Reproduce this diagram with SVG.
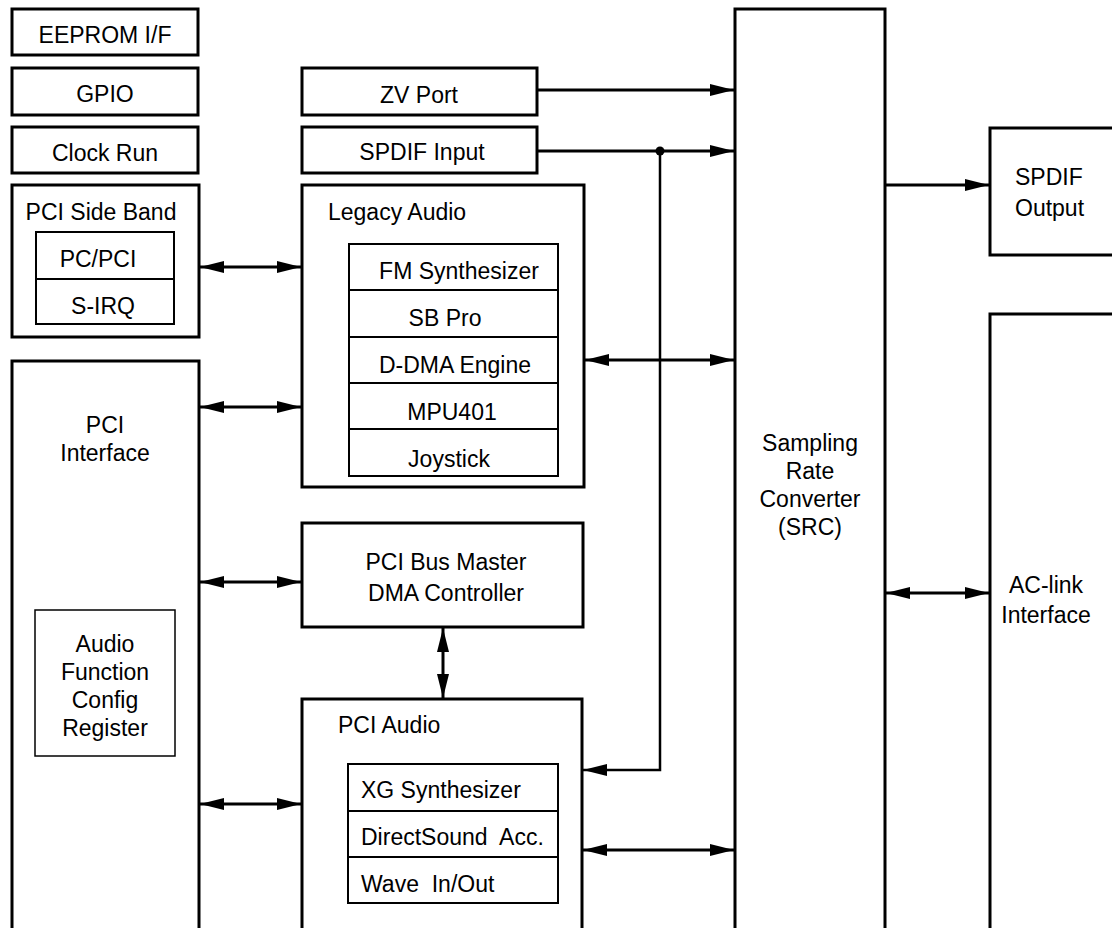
<svg xmlns="http://www.w3.org/2000/svg" width="1112" height="928" viewBox="0 0 1112 928">
<defs>
<marker id="ah" viewBox="0 0 24 12" refX="24" refY="6" markerWidth="24" markerHeight="12" markerUnits="userSpaceOnUse" orient="auto-start-reverse">
<path d="M0,0 L24,6 L0,12 z" fill="#000"/>
</marker>
<style>
.b{fill:#fff;stroke:#000;stroke-width:3}
.i{fill:none;stroke:#000;stroke-width:2}
.r{fill:#fff;stroke:#000;stroke-width:1.5}
.t{font-family:"Liberation Sans",Arial,sans-serif;font-size:23px;fill:#000}
.m{text-anchor:middle}
.c{fill:none;stroke:#000;stroke-width:3}
.one{marker-end:url(#ah)}
.two{marker-start:url(#ah);marker-end:url(#ah)}
</style>
</defs>
<rect width="1112" height="928" fill="#fff"/>

<g id="eeprom"><rect class="b" x="12" y="9" width="186" height="46"/><text class="t m" x="105" y="43">EEPROM I/F</text></g>
<g id="gpio"><rect class="b" x="12" y="68" width="186" height="47"/><text class="t m" x="105" y="102">GPIO</text></g>
<g id="clockrun"><rect class="b" x="12" y="127" width="186" height="46"/><text class="t m" x="105" y="161">Clock Run</text></g>

<g id="sideband">
<rect class="b" x="12" y="185" width="187" height="152"/>
<text class="t m" x="101" y="220">PCI Side Band</text>
<rect class="i" x="36" y="232" width="138" height="92"/>
<line class="i" x1="36" y1="279" x2="174" y2="279"/>
<text class="t m" x="98" y="267">PC/PCI</text>
<text class="t m" x="103" y="314">S-IRQ</text>
</g>

<g id="pciif">
<rect class="b" x="12" y="361" width="187" height="600"/>
<text class="t m" x="105" y="433">PCI</text>
<text class="t m" x="105" y="461">Interface</text>
</g>
<g id="afcr">
<rect class="r" x="35" y="610" width="140" height="146"/>
<text class="t m" x="105" y="652">Audio</text>
<text class="t m" x="105" y="680">Function</text>
<text class="t m" x="105" y="708">Config</text>
<text class="t m" x="105" y="736">Register</text>
</g>

<g id="zvport"><rect class="b" x="302" y="68" width="235" height="47"/><text class="t m" x="419" y="103">ZV Port</text></g>
<g id="spdifin"><rect class="b" x="302" y="127" width="235" height="46"/><text class="t m" x="422" y="160">SPDIF Input</text></g>

<g id="legacy">
<rect class="b" x="302" y="185" width="282" height="302"/>
<text class="t" x="328" y="220">Legacy Audio</text>
<rect class="i" x="349" y="244" width="209" height="232"/>
<line class="i" x1="349" y1="290" x2="558" y2="290"/>
<line class="i" x1="349" y1="337" x2="558" y2="337"/>
<line class="i" x1="349" y1="383" x2="558" y2="383"/>
<line class="i" x1="349" y1="429" x2="558" y2="429"/>
<text class="t m" x="459" y="279">FM Synthesizer</text>
<text class="t m" x="445" y="326">SB Pro</text>
<text class="t m" x="455" y="373">D-DMA Engine</text>
<text class="t m" x="452" y="420">MPU401</text>
<text class="t m" x="449" y="467">Joystick</text>
</g>

<g id="busmaster">
<rect class="b" x="302" y="523" width="281" height="104"/>
<text class="t m" x="446" y="570">PCI Bus Master</text>
<text class="t m" x="446" y="601">DMA Controller</text>
</g>

<g id="pciaudio">
<rect class="b" x="302" y="699" width="280" height="260"/>
<text class="t" x="338" y="733">PCI Audio</text>
<rect class="i" x="348" y="764" width="210" height="139"/>
<line class="i" x1="348" y1="811" x2="558" y2="811"/>
<line class="i" x1="348" y1="857" x2="558" y2="857"/>
<text class="t" x="361" y="798">XG Synthesizer</text>
<text class="t" x="361" y="845" xml:space="preserve">DirectSound  Acc.</text>
<text class="t" x="361" y="892" xml:space="preserve">Wave  In/Out</text>
</g>

<g id="src">
<rect class="b" x="735" y="9" width="150" height="950"/>
<text class="t m" x="810" y="451">Sampling</text>
<text class="t m" x="810" y="479">Rate</text>
<text class="t m" x="810" y="507">Converter</text>
<text class="t m" x="810" y="535">(SRC)</text>
</g>

<g id="spdifout">
<rect class="b" x="990" y="128" width="140" height="127"/>
<text class="t" x="1015" y="185">SPDIF</text>
<text class="t" x="1015" y="216">Output</text>
</g>

<g id="aclink">
<rect class="b" x="990" y="314" width="140" height="650"/>
<text class="t m" x="1046" y="593">AC-link</text>
<text class="t m" x="1046" y="623">Interface</text>
</g>

<g id="connectors">
<line class="c one" x1="537" y1="90" x2="734" y2="90"/>
<line class="c one" x1="537" y1="151" x2="734" y2="151"/>
<line class="c one" x1="886" y1="185" x2="989" y2="185"/>
<line class="c two" x1="200" y1="267" x2="301" y2="267"/>
<line class="c two" x1="200" y1="407" x2="301" y2="407"/>
<line class="c two" x1="585" y1="360" x2="734" y2="360"/>
<line class="c two" x1="200" y1="582" x2="301" y2="582"/>
<line class="c two" x1="443" y1="628" x2="443" y2="698"/>
<line class="c two" x1="200" y1="804" x2="301" y2="804"/>
<line class="c two" x1="583" y1="850" x2="734" y2="850"/>
<line class="c two" x1="886" y1="593" x2="989" y2="593"/>
<polyline class="c one" points="660,151 660,770 583,770" style="stroke-width:2.5"/>
<circle cx="660" cy="151" r="4.5" fill="#000"/>
</g>
</svg>
